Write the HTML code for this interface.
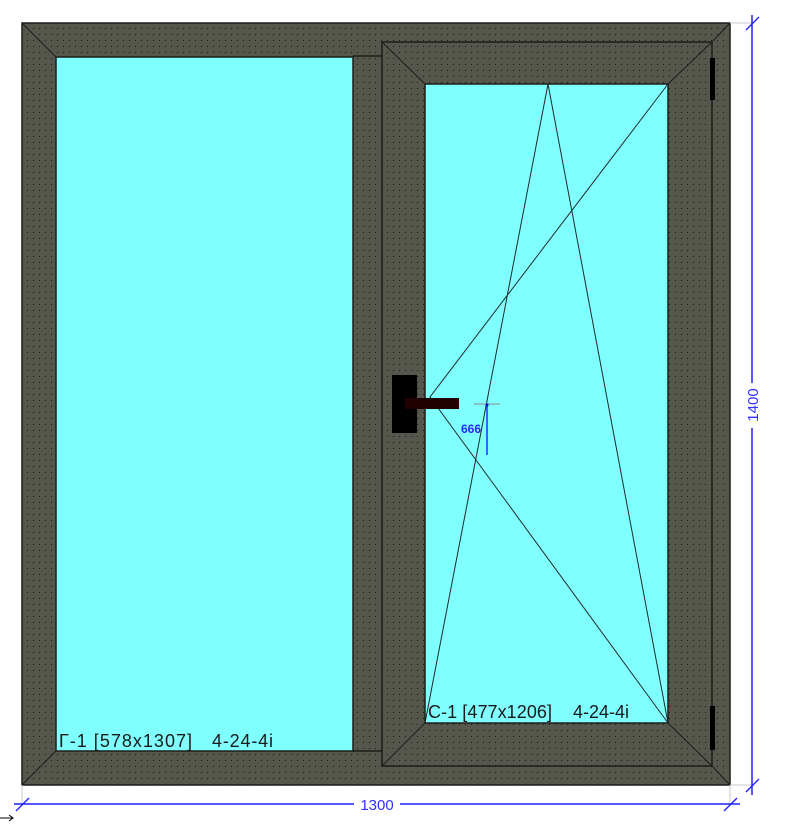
<!DOCTYPE html>
<html><head><meta charset="utf-8"><style>
html,body{margin:0;padding:0;background:#fff;width:812px;height:824px;overflow:hidden}
svg{display:block}
text{font-family:"Liberation Sans",Arial,sans-serif}
</style></head><body>
<svg width="812" height="824" viewBox="0 0 812 824" xmlns="http://www.w3.org/2000/svg">
<defs>
<pattern id="d" width="6" height="6" patternUnits="userSpaceOnUse" x="1" y="2">
<rect width="6" height="6" fill="#55574d"/>
<rect x="2" y="2" width="1" height="1" fill="#1a1a14"/>
</pattern>
</defs>
<rect x="22" y="23" width="708" height="762" fill="url(#d)" stroke="#1e1e1a" stroke-width="1.5"/>
<rect x="56" y="57" width="297" height="694" fill="#80ffff" stroke="#1e1e1a" stroke-width="1.5"/>
<line x1="22" y1="23" x2="56" y2="57" stroke="#1e1e1a"/>
<line x1="22" y1="785" x2="56" y2="751" stroke="#1e1e1a"/>
<line x1="353" y1="56" x2="382" y2="56" stroke="#1e1e1a" stroke-width="1.5"/>
<line x1="353" y1="751" x2="382" y2="751" stroke="#1e1e1a" stroke-width="1.5"/>
<line x1="712" y1="42" x2="730" y2="23" stroke="#1e1e1a"/>
<line x1="712" y1="766" x2="730" y2="785" stroke="#1e1e1a"/>
<rect x="382" y="42" width="330" height="724" fill="url(#d)" stroke="#1e1e1a" stroke-width="1.5"/>
<rect x="425" y="84" width="243" height="639" fill="#80ffff" stroke="#1e1e1a" stroke-width="1.5"/>
<line x1="382" y1="42" x2="425" y2="84" stroke="#1e1e1a"/>
<line x1="712" y1="42" x2="668" y2="84" stroke="#1e1e1a"/>
<line x1="382" y1="766" x2="425" y2="723" stroke="#1e1e1a"/>
<line x1="712" y1="766" x2="668" y2="723" stroke="#1e1e1a"/>
<polyline points="425,723 548,84 668,723" fill="none" stroke="#1e2a2a" stroke-width="1"/>
<polyline points="668,84 430,397 668,723" fill="none" stroke="#1e2a2a" stroke-width="1"/>
<rect x="710" y="58" width="5" height="42" fill="#000"/>
<rect x="710" y="706" width="5" height="44" fill="#000"/>
<rect x="392" y="375" width="25" height="58" fill="#000"/>
<rect x="405" y="398" width="54" height="11" fill="#200000"/>
<line x1="474" y1="404" x2="500" y2="404" stroke="#888" stroke-width="1"/>
<line x1="487" y1="404" x2="487" y2="455" stroke="#0000ff" stroke-width="1.2"/>
<circle cx="487" cy="405" r="1.5" fill="#0000ff"/>
<text x="461" y="433" font-size="12" font-weight="bold" fill="#2a2aff">666</text>
<text x="59" y="747" font-size="18" fill="#1a1a1a" textLength="133" lengthAdjust="spacing">Г-1 [578x1307]</text>
<text x="212" y="747" font-size="18" fill="#1a1a1a" textLength="61" lengthAdjust="spacing">4-24-4i</text>
<text x="428" y="718" font-size="18" fill="#1a1a1a" textLength="124" lengthAdjust="spacing">С-1 [477x1206]</text>
<text x="573" y="718" font-size="18" fill="#1a1a1a" textLength="56" lengthAdjust="spacing">4-24-4i</text>
<line x1="730" y1="23" x2="752" y2="23" stroke="#c8c8c8"/>
<line x1="730" y1="785" x2="752" y2="785" stroke="#c8c8c8"/>
<line x1="730" y1="785" x2="730" y2="805" stroke="#c8c8c8"/>
<line x1="22" y1="785" x2="22" y2="805" stroke="#c8c8c8"/>
<line x1="752" y1="15" x2="752" y2="383" stroke="#2020ff" stroke-width="1.5"/>
<line x1="752" y1="428" x2="752" y2="795" stroke="#2020ff" stroke-width="1.5"/>
<line x1="746" y1="30" x2="759" y2="17" stroke="#2020ff" stroke-width="1.3"/>
<line x1="746" y1="792" x2="759" y2="779" stroke="#2020ff" stroke-width="1.3"/>
<text transform="translate(758,405) rotate(-90)" text-anchor="middle" font-size="15" fill="#3030ff">1400</text>
<line x1="14" y1="804" x2="354" y2="804" stroke="#2020ff" stroke-width="1.5"/>
<line x1="400" y1="804" x2="740" y2="804" stroke="#2020ff" stroke-width="1.5"/>
<line x1="16" y1="811" x2="29" y2="798" stroke="#2020ff" stroke-width="1.3"/>
<line x1="724" y1="811" x2="737" y2="798" stroke="#2020ff" stroke-width="1.3"/>
<text x="377" y="810" text-anchor="middle" font-size="15" fill="#3030ff">1300</text>
<line x1="0" y1="818" x2="13" y2="818" stroke="#000"/>
<polyline points="9,815 13,818 9,821" fill="none" stroke="#000"/>
</svg>
</body></html>
